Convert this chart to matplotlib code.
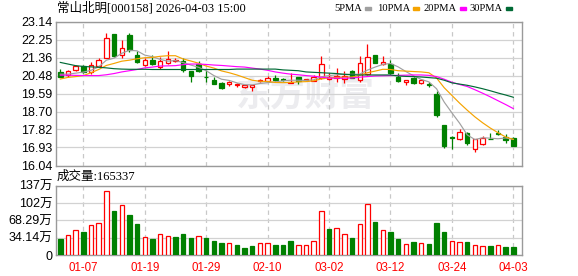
"""
K-line chart of 常山北明 (000158) with moving averages and volume.
"""

import numpy as np
import matplotlib
matplotlib.use('Agg')
from matplotlib import pyplot as plt

# --- data ---
opens = [20.64, 20.51, 20.77, 20.93, 20.64, 20.93, 21.37, 22.51, 21.48, 22.46,
         21.52, 20.98, 21.26, 20.92, 21.08, 21.21, 21.22, 20.70, 21.03, 20.43,
         20.28, 20.10, 20.05, 20.02, 19.94, 19.94, 20.19, 20.23, 20.38, 20.33,
         20.13, 20.40, 20.25, 20.23, 20.35, 20.31, 20.38, 20.31, 20.70, 20.26,
         20.57, 21.48, 21.05, 21.03, 20.43, 20.15, 20.38, 20.09, 20.05, 19.57,
         18.02, 17.47, 17.37, 17.63, 16.83, 17.09, 17.37, 17.66, 17.45, 17.42]
highs = [20.80, 20.75, 21.00, 21.00, 21.13, 21.34, 22.56, 22.51, 22.22, 22.57,
         21.71, 21.35, 21.52, 21.40, 21.68, 21.37, 21.37, 20.72, 21.19, 20.74,
         20.43, 20.18, 20.22, 20.10, 20.00, 20.00, 20.30, 20.44, 20.51, 20.38,
         20.59, 20.42, 20.33, 20.49, 21.44, 20.62, 20.87, 20.70, 20.77, 21.44,
         22.02, 21.50, 21.45, 21.27, 20.59, 20.25, 20.43, 20.30, 20.15, 19.70,
         18.02, 17.52, 17.86, 17.71, 17.37, 17.48, 17.63, 17.78, 17.58, 17.45]
lows = [20.40, 20.43, 20.72, 20.62, 20.57, 20.90, 21.34, 21.39, 21.37, 21.65,
        21.09, 20.93, 20.98, 20.82, 21.05, 21.13, 20.66, 20.15, 20.66, 20.18,
        20.05, 19.84, 19.97, 19.92, 19.89, 19.70, 20.15, 20.20, 20.22, 20.22,
        20.09, 20.05, 20.22, 20.22, 20.32, 20.27, 20.15, 20.10, 20.35, 20.15,
        20.51, 21.08, 21.00, 20.58, 20.18, 20.02, 20.08, 20.05, 19.92, 18.43,
        16.90, 16.87, 17.29, 17.06, 16.72, 17.07, 17.33, 17.55, 17.16, 17.00]
closes = [20.43, 20.69, 20.93, 20.67, 20.98, 21.26, 22.35, 21.45, 21.86, 21.73,
          21.13, 21.26, 21.06, 21.22, 21.29, 21.27, 20.74, 20.48, 20.69, 20.40,
          20.07, 19.87, 20.18, 20.06, 19.99, 19.99, 20.25, 20.36, 20.25, 20.25,
          20.16, 20.23, 20.30, 20.40, 21.03, 20.43, 20.44, 20.46, 20.38, 21.08,
          21.42, 21.10, 21.14, 20.62, 20.23, 20.25, 20.10, 20.26, 20.00, 18.52,
          16.99, 17.42, 17.71, 17.13, 17.35, 17.42, 17.34, 17.58, 17.29, 17.01]
prev_close = 20.55  # close of the day before the first bar

# volume, in 万
volumes = [31.5, 38.7, 48.6, 45.3, 58.4, 62.4, 125.4, 86.7, 97.8, 78.8,
           61.1, 34.8, 31.5, 40.7, 36.8, 35.5, 41.4, 33.5, 36.8, 33.5,
           27.6, 23.6, 23.0, 19.7, 13.8, 17.7, 23.0, 23.0, 19.7, 19.7,
           27.6, 19.0, 19.0, 27.6, 86.0, 51.2, 52.5, 41.4, 33.5, 61.1,
           99.8, 65.0, 48.6, 45.3, 31.5, 21.7, 25.6, 23.6, 21.7, 63.0,
           45.3, 27.6, 25.6, 25.6, 19.0, 17.1, 17.1, 19.0, 15.8, 16.53]

ma5 = [20.55, 20.55, 20.60, 20.65, 20.74, 20.91, 21.24, 21.34, 21.58, 21.73,
       21.70, 21.49, 21.41, 21.28, 21.19, 21.22, 21.12, 21.00, 20.89, 20.72,
       20.48, 20.30, 20.24, 20.12, 20.03, 20.02, 20.09, 20.13, 20.17, 20.22,
       20.25, 20.25, 20.24, 20.27, 20.42, 20.48, 20.52, 20.55, 20.54, 20.55,
       20.75, 20.90, 21.03, 21.08, 20.91, 20.68, 20.47, 20.29, 20.17, 19.83,
       19.17, 18.64, 18.13, 17.55, 17.32, 17.41, 17.39, 17.36, 17.40, 17.33]
ma10 = [20.31, 20.39, 20.43, 20.48, 20.62, 20.78, 20.98, 21.08, 21.19, 21.24,
        21.31, 21.36, 21.38, 21.43, 21.46, 21.46, 21.30, 21.20, 21.09, 20.95,
        20.85, 20.71, 20.62, 20.51, 20.38, 20.25, 20.20, 20.19, 20.14, 20.13,
        20.14, 20.17, 20.18, 20.22, 20.32, 20.37, 20.39, 20.40, 20.41, 20.49,
        20.62, 20.70, 20.79, 20.78, 20.72, 20.70, 20.68, 20.66, 20.62, 20.36,
        19.88, 19.50, 19.12, 18.77, 18.44, 18.15, 17.89, 17.66, 17.45, 17.33]
ma20 = [20.50, 20.50, 20.49, 20.48, 20.48, 20.48, 20.52, 20.58, 20.66, 20.72,
        20.78, 20.86, 20.90, 20.95, 20.96, 20.97, 21.02, 21.05, 21.05, 21.03,
        21.00, 20.98, 20.95, 20.92, 20.90, 20.85, 20.80, 20.74, 20.66, 20.60,
        20.55, 20.52, 20.48, 20.45, 20.40, 20.36, 20.35, 20.35, 20.36, 20.40,
        20.43, 20.46, 20.47, 20.48, 20.49, 20.50, 20.51, 20.51, 20.49, 20.43,
        20.30, 20.15, 20.04, 19.94, 19.78, 19.61, 19.43, 19.24, 19.05, 18.85]
ma30 = [21.13, 21.05, 20.97, 20.93, 20.91, 20.89, 20.86, 20.82, 20.80, 20.79,
        20.79, 20.79, 20.78, 20.78, 20.78, 20.78, 20.78, 20.78, 20.78, 20.78,
        20.78, 20.78, 20.78, 20.80, 20.80, 20.80, 20.80, 20.80, 20.80, 20.76,
        20.74, 20.72, 20.66, 20.64, 20.62, 20.60, 20.58, 20.54, 20.52, 20.51,
        20.51, 20.51, 20.51, 20.51, 20.46, 20.44, 20.43, 20.41, 20.38, 20.35,
        20.25, 20.12, 20.06, 20.00, 19.92, 19.83, 19.73, 19.62, 19.52, 19.41]

date_idx = [3, 11, 19, 27, 35, 43, 51, 59]
date_labels = ['01-07', '01-19', '01-29', '02-10', '03-02', '03-12', '03-24', '04-03']
price_ticks = [16.04, 16.93, 17.82, 18.70, 19.59, 20.48, 21.36, 22.25, 23.14]
vol_ticks = [0, 34.14, 68.29, 102.43, 136.58]
vol_tick_labels = ['0', '34.14万', '68.29万', '102万', '137万']

ma_names = ['5PMA', '10PMA', '20PMA', '30PMA']
ma_colors = ['#a0a0a0', '#f5a300', '#ff00ff', '#006a35']

RED = '#ff0000'
GREEN = '#008000'
FRAME = '#9a9a9a'
GRID = '#d2d2d2'

plt.rcParams['font.family'] = ['Liberation Sans', 'Noto Sans CJK SC']

W, H = 578, 276
fig = plt.figure(figsize=(W / 100, H / 100), dpi=100)
ax1 = fig.add_axes([56 / W, 1 - 165.5 / H, 466 / W, 143.8 / H])
ax2 = fig.add_axes([56 / W, 1 - 255 / H, 466 / W, 69.3 / H])

x = np.arange(len(closes))
o = np.array(opens)
c = np.array(closes)
up = c > o
pc = np.concatenate([[prev_close], c[:-1]])
vol_up = c > pc

for ax in (ax1, ax2):
    ax.set_xlim(-0.56, len(closes) + 0.13)
    for s in ax.spines.values():
        s.set_color(FRAME)
        s.set_linewidth(1.0)
    ax.tick_params(length=0, labelsize=9, pad=2.5)
    ax.set_xticks(date_idx)
    ax.grid(axis='y', color=GRID, lw=0.9)
    ax.grid(axis='x', color='#c8c8c8', lw=0.9, linestyle=(0, (3.5, 3)))
    ax.set_axisbelow(True)

# --- price panel ---
ax1.set_ylim(price_ticks[0], price_ticks[-1])
ax1.set_yticks(price_ticks)
ax1.set_yticklabels(['%.2f' % t for t in price_ticks])
ax1.set_xticklabels([])

# watermark
ax1.text(0.536, 0.49, '东方财富', transform=ax1.transAxes, fontsize=25,
         fontweight='bold', color='#ececef', ha='center', va='center',
         family='Noto Sans CJK SC', zorder=0)

cols = np.where(up, RED, GREEN)
ax1.vlines(x, lows, highs, colors=cols, lw=0.9, zorder=2)
body = np.maximum(np.abs(c - o), 0.025)
ax1.bar(x, body, bottom=np.minimum(o, c), width=0.58,
        facecolor=np.where(up, 'white', GREEN), edgecolor=cols, lw=0.9, zorder=3)

for vals, col in zip([ma5, ma10, ma20, ma30], ma_colors):
    ax1.plot(x, vals, color=col, lw=0.85, zorder=4)

# --- volume panel ---
ax2.set_ylim(0, vol_ticks[-1])
ax2.set_yticks(vol_ticks)
ax2.set_yticklabels(vol_tick_labels)
ax2.set_xticklabels(date_labels, color=RED, fontsize=8.3)
ax2.tick_params(axis='x', pad=5)
vcols = np.where(vol_up, RED, GREEN)
ax2.bar(x, volumes, width=0.58, facecolor=np.where(vol_up, 'white', GREEN),
        edgecolor=vcols, lw=0.9, zorder=3)

# --- texts on top ---
fig.text(57 / W, 1 - 8.5 / H, '常山北明[000158] 2026-04-03 15:00', fontsize=9,
         va='center', ha='left', family=['Liberation Serif', 'Noto Sans CJK SC'])
fig.text(57 / W, 1 - 176.5 / H, '成交量:165337', fontsize=9,
         va='center', ha='left', family=['Liberation Serif', 'Noto Sans CJK SC'])

sq_x = [365, 413, 460, 506]
for name, col, sx in zip(ma_names, ma_colors, sq_x):
    fig.text((sx - 3) / W, 1 - 8.5 / H, name, fontsize=7.6, va='center', ha='right',
             family='Liberation Serif')
    fig.add_artist(plt.Rectangle((sx / W, 1 - 10 / H), 6 / W, 3 / H,
                                 transform=fig.transFigure, color=col))

fig.savefig('out.png', dpi=100)
